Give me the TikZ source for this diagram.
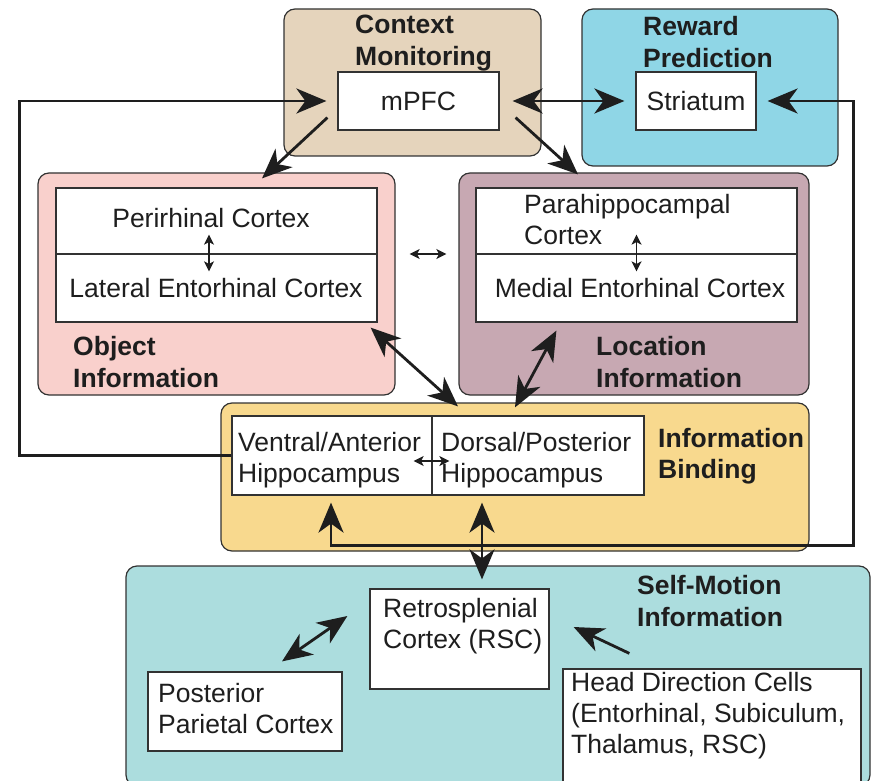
\documentclass[tikz,border=0pt]{standalone}
\usepackage{fontspec}
\setmainfont{Liberation Sans}
\usetikzlibrary{arrows.meta,calc}

\definecolor{ctxfill}{RGB}{229,212,188}
\definecolor{rewfill}{RGB}{143,214,230}
\definecolor{objfill}{RGB}{249,208,204}
\definecolor{locfill}{RGB}{199,168,178}
\definecolor{bindfill}{RGB}{248,217,142}
\definecolor{selffill}{RGB}{172,221,222}
\definecolor{edge}{RGB}{50,50,50}
\definecolor{ink}{RGB}{30,30,30}

\begin{document}
\begin{tikzpicture}[x=1pt,y=-1pt,
  groupbox/.style={draw=edge,line width=1.2pt,rounded corners=11pt,inner sep=0pt},
  areabox/.style={draw=edge,line width=1.2pt,fill=white,inner sep=0pt},
  title/.style={font=\fontsize{26.5}{31.5}\selectfont\bfseries,text=ink,align=left,inner sep=0pt,anchor=west},
  lbl/.style={font=\fontsize{26.5}{31}\selectfont,text=ink,align=left,inner sep=0pt},
  bighead/.style={Stealth[length=30pt,width=25pt,inset=9pt]},
  link/.style={draw=ink,line width=2.8pt,{Stealth[length=30pt,width=25pt,inset=9pt]}-{Stealth[length=30pt,width=25pt,inset=9pt]}},
  onelink/.style={draw=ink,line width=2.8pt,-{Stealth[length=30pt,width=25pt,inset=9pt]}},
  minilink/.style={draw=ink,line width=1.4pt,{Stealth[length=10pt,width=10pt,inset=2.5pt]}-{Stealth[length=10pt,width=10pt,inset=2.5pt]}}]

\useasboundingbox (0,0) rectangle (873,781);

% functional groups
\node (ctxg)  [groupbox,fill=ctxfill, minimum width=257pt,minimum height=147pt] at (412.5,82.5) {};
\node (rewg)  [groupbox,fill=rewfill, minimum width=256pt,minimum height=157pt] at (710,87.5) {};
\node (objg)  [groupbox,fill=objfill, minimum width=357pt,minimum height=222pt] at (216.5,284) {};
\node (locg)  [groupbox,fill=locfill, minimum width=350pt,minimum height=222pt] at (634,284) {};
\node (bindg) [groupbox,fill=bindfill,minimum width=588pt,minimum height=148pt] at (515,477) {};
\node (selfg) [groupbox,fill=selffill,minimum width=744pt,minimum height=220pt] at (498,676) {};

% regions
\node (mpfc) [areabox,minimum width=161pt,minimum height=58pt] at (418.5,101) {};
\node (stri) [areabox,minimum width=120pt,minimum height=58pt] at (696,101) {};
\node (prc)  [areabox,minimum width=321pt,minimum height=66pt] at (216.5,221) {};
\node (lec)  [areabox,minimum width=321pt,minimum height=68pt] at (216.5,288) {};
\node (phc)  [areabox,minimum width=321pt,minimum height=66pt] at (636.5,221) {};
\node (mec)  [areabox,minimum width=321pt,minimum height=68pt] at (636.5,288) {};
\node (vhip) [areabox,minimum width=200pt,minimum height=79pt] at (332,455.5) {};
\node (dhip) [areabox,minimum width=212pt,minimum height=79pt] at (538,455.5) {};
\node (rsc)  [areabox,minimum width=179pt,minimum height=100pt] at (459.5,639) {};
\node (ppc)  [areabox,minimum width=194pt,minimum height=79pt] at (245,711.5) {};
\node (hdc)  [areabox,minimum width=298pt,minimum height=116pt] at (712,727) {};

% group titles
\node (ctxt)  [title] at (355,43)  {Context\\Monitoring};
\node (rewt)  [title] at (643,42)  {Reward\\Prediction};
\node (objt)  [title] at (73,362)  {Object\\Information};
\node (loct)  [title] at (596,362) {Location\\Information};
\node (bindt) [title] at (658,456) {Information\\Binding};
\node (selft) [title] at (637,601) {Self-Motion\\Information};

% region labels
\node (mpfcl) [lbl] at (418.5,101) {mPFC};
\node (stril) [lbl] at (696,101) {Striatum};
\node (prcl)  [lbl] at (211,218) {Perirhinal Cortex};
\node (lecl)  [lbl] at (216,288) {Lateral Entorhinal Cortex};
\node (phcl)  [lbl,anchor=west] at (524,220) {Parahippocampal\\Cortex};
\node (mecl)  [lbl] at (640,288) {Medial Entorhinal Cortex};
\node (vhipl) [lbl,anchor=west] at (238,460) {Ventral/Anterior\\Hippocampus};
\node (dhipl) [lbl,anchor=west] at (441,460) {Dorsal/Posterior\\Hippocampus};
\node (rscl)  [lbl,anchor=west] at (383,626) {Retrosplenial\\Cortex (RSC)};
\node (ppcl)  [lbl,anchor=west] at (158,709) {Posterior\\Parietal Cortex};
\node (hdcl)  [lbl,anchor=west] at (571,716) {Head Direction Cells\\(Entorhinal, Subiculum,\\Thalamus, RSC)};

% connections
\draw[onelink] ($(mpfc.south west)+(-10,-13)$) -- ($(objg.north)+(45.5,6)$);
\draw[onelink] ($(mpfc.south east)+(16,-13)$) -- ($(locg.north)+(-56,2)$);
\draw[link] ($(mpfc.east)+(13,0)$) -- ($(stri.west)+(-11,0)$);
\draw[onelink] (vhip.west) -- ($(vhip.west)+(-212,0)$) |- ($(mpfc.west)+(-11,0)$);
\draw[link] ($(vhip.south)+(-1,7)$) -- ++(0,43) -| ($(stri.east)+(97,0)$) -- ($(stri.east)+(11,0)$);
\draw[link] ($(lec.south east)+(-7,5)$) -- ($(bindg.north)+(-57,4)$);
\draw[link] ($(mec.south west)+(81,8)$) -- ($(bindg.north)+(0,5)$);
\draw[link] ($(dhip.south)+(-56,7)$) -- ($(rsc.north)+(22.5,-9)$);
\draw[link] ($(ppc.north)+(37,-10)$) -- ($(rsc.west)+(-22,-23)$);
\draw[onelink] ($(hdc.north west)+(67,-15)$) -- ($(rsc.east)+(24,-12)$);

% short links between neighbouring regions
\draw[minilink] ($(prc.south)+(-7.5,-20)$) -- ($(lec.north)+(-7.5,18)$);
\draw[minilink] ($(phc.south)+(0,-20)$) -- ($(mec.north)+(0,18)$);
\draw[minilink] ($(objg.east)+(14,-30)$) -- ($(locg.west)+(-12,-30)$);
\draw[minilink] ($(vhip.east)+(-19,5.5)$) -- ($(dhip.west)+(18,5.5)$);
\end{tikzpicture}
\end{document}
